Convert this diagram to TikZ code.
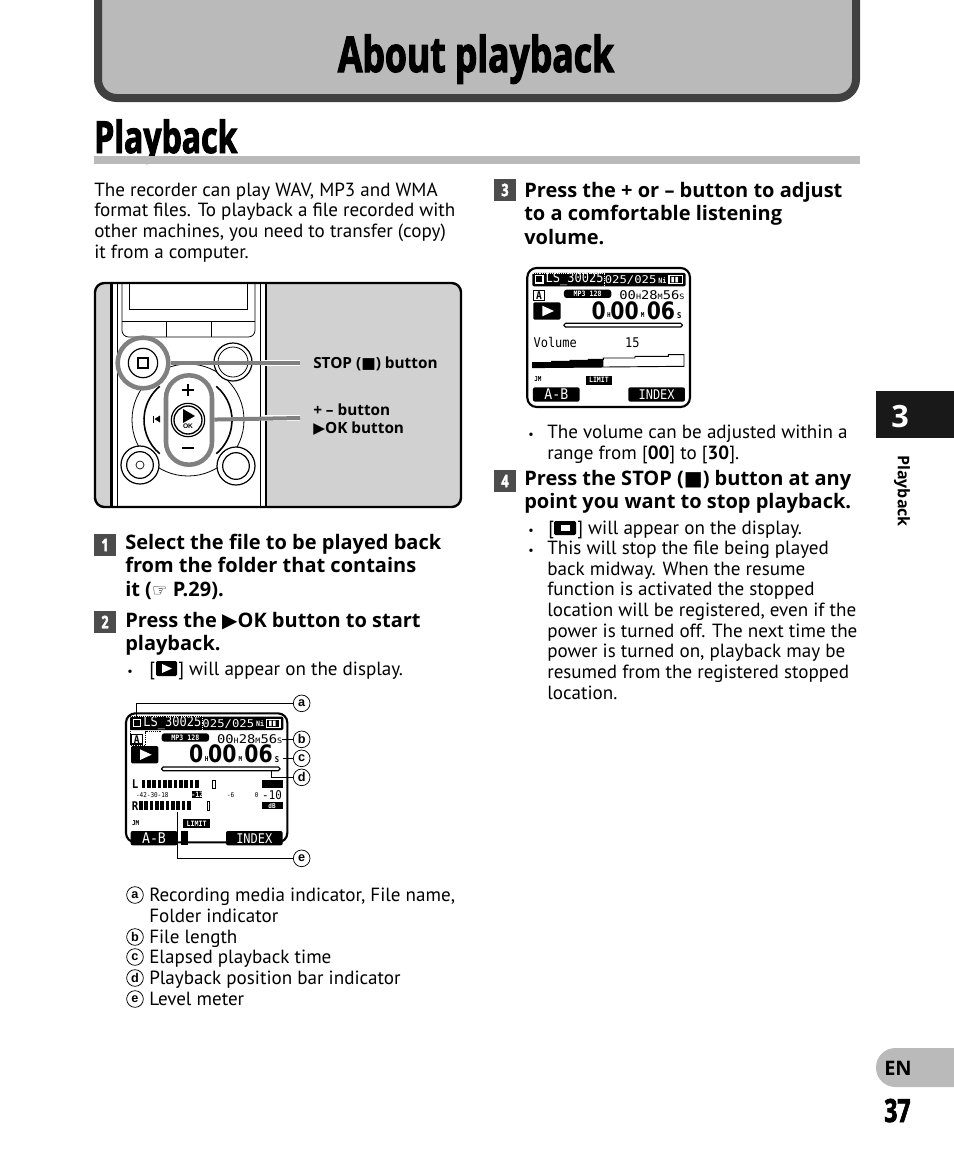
\documentclass[tikz,border=0pt]{standalone}
\usepackage{fontspec}
\setmainfont{PT Sans}
\newfontfamily\headfont[FakeStretch=.72,BoldFeatures={FakeBold=2.2}]{Open Sans}
\newfontfamily\stepfont{Open Sans}
\newfontfamily\glyphfont{DejaVu Sans}
\newfontfamily\keyfont{Liberation Sans}
\newfontfamily\lcdfont[FakeStretch=.9]{DejaVu Sans Mono}
\newfontfamily\lcdwide[FakeStretch=1.15]{DejaVu Sans Mono}
\newfontfamily\lcdbig[FakeStretch=.85]{DejaVu Sans}
\newcommand{\glyph}[1]{{\glyphfont #1}}
\newcommand{\lcdsize}[1]{\lcdfont\fontsize{#1}{#1}\selectfont}
\newcommand{\widesize}[1]{\lcdwide\fontsize{#1}{#1}\selectfont}
\newcommand{\bigsize}[1]{\lcdbig\fontsize{#1}{#1}\selectfont\bfseries}
% the face of the display, in thirds of a pixel
\newcommand{\lcdface}[1]{
	\fill[black,rounded corners=1pt] (45,80) rectangle (505,120);
	\draw[white,densely dotted] (47,80) -- (262,80) -- (262,120);
	\draw[white,line width=.8pt] (55,88) rectangle (77,110);
	\node[lcdtxt,white] (#1name) at (172,98) {\lcdsize{10}LS\char"5F 30025};
	\node[lcdtxt,white] (#1folder) at (340,102) {\widesize{8}025/025};
	\node[lcdtxt,white] (#1ni) at (435,102) {\lcdsize{5.5}\bfseries Ni};
	\draw[white,line width=.8pt] (455,88) rectangle (495,112);
	\fill[white] (462,92) rectangle (470,108) (474,92) rectangle (482,108);
	\draw[line width=.9pt] (48,133) rectangle (82,162);
	\node[lcdtxt] (#1media) at (65,148) {\lcdsize{8}\bfseries A};
	\fill[rounded corners=2pt] (140,130) rectangle (282,155);
	\node[lcdtxt,white] (#1rate) at (211,143) {\lcdsize{5.5}\bfseries MP3 128};
	\node[lcdtxt] (#1total) at (404,146) {\widesize{9}00{\widesize{5.5}H}28{\widesize{5.5}M}56{\widesize{5.5}S}};
	\fill[rounded corners=1pt] (48,168) rectangle (130,220);
	\fill[white] (75,178) -- (110,194) -- (75,210) -- cycle;
	\node[lcdtxt] (#1h) at (244,192) {\bigsize{18}0};
	\node[lcdtxt] (#1hu) at (275,207) {\lcdsize{5}\bfseries H};
	\node[lcdtxt] (#1m) at (322,192) {\bigsize{18}00};
	\node[lcdtxt] (#1mu) at (376,207) {\lcdsize{5}\bfseries M};
	\node[lcdtxt] (#1s) at (431,192) {\bigsize{18}06};
	\node[lcdtxt] (#1su) at (486,208) {\lcdsize{6}\bfseries S};
	\draw[rounded corners=1.2pt,line width=.9pt] (140,231) rectangle (495,242);
	\node[lcdtxt] (#1mic) at (62,398) {\lcdsize{5}\bfseries JM};
	\fill (205,388) rectangle (285,415);
	\node[lcdtxt,white] (#1limit) at (245,402) {\lcdsize{5.5}\bfseries LIMIT};
	\fill[rounded corners=1.5pt] (47,423) rectangle (187,466);
	\node[lcdtxt,white] (#1ab) at (117,445) {\lcdsize{11}A-B};
	\fill[rounded corners=1.5pt] (333,423) rectangle (503,466);
	\node[lcdtxt,white] (#1index) at (418,445) {\lcdsize{10}INDEX};
}

\begin{document}
\begin{tikzpicture}[x=.75pt,y=-.75pt,line cap=butt]
	\tikzstyle{txt}=[anchor=base west,inner sep=0pt,font=\fontsize{14.3}{16}\selectfont];
	\tikzstyle{bul}=[anchor=base west,inner sep=0pt,font=\fontsize{9}{10}\selectfont];
	\tikzstyle{hd}=[anchor=base west,inner sep=0pt,font=\stepfont\fontsize{15}{17}\selectfont\bfseries];
	\tikzstyle{stepnum}=[fill=black!70,text=white,minimum size=16.5pt,inner sep=0pt,font=\headfont\fontsize{13}{14}\selectfont\bfseries];
	\tikzstyle{keyc}=[circle,draw,line width=.55pt,fill=white,inner sep=0pt,minimum size=12.5pt,font=\keyfont\fontsize{9.5}{10}\selectfont\bfseries];
	\tikzstyle{lcdtxt}=[inner sep=0pt];
	\tikzstyle{callout}=[line width=3pt,draw=black!50];
	\tikzstyle{halo}=[line width=5pt,draw=white];
	\tikzstyle{tag}=[anchor=base west,inner sep=0pt,font=\stepfont\fontsize{11.5}{13}\selectfont\bfseries];
	\tikzstyle{btn}=[draw=black,fill=white,line width=.9pt];

	\useasboundingbox (0,0) rectangle (954,1158);

	% title block
	\draw[line width=6pt,draw=black!75,fill=black!27,rounded corners=14pt] (98,-30) rectangle (856,98);
	\node[anchor=base,inner sep=0pt,font=\headfont\fontsize{37}{40}\selectfont\bfseries] (title) at (476,72) {About playback};
	\node[anchor=base west,inner sep=0pt,font=\headfont\fontsize{33.3}{36}\selectfont\bfseries] (heading) at (94,153) {Playback};
	\fill[black!27] (94,156) rectangle (860,164);

	% intro
	\node[txt] (intro1) at (94,196) {The recorder can play WAV, MP3 and WMA};
	\node[txt] (intro2) at (94,216) {format files. To playback a file recorded with};
	\node[txt] (intro3) at (94,237) {other machines, you need to transfer (copy)};
	\node[txt] (intro4) at (94,258) {it from a computer.};

	% recorder
	\fill[white,rounded corners=7pt] (95,283) rectangle (461,507);
	\begin{scope}
		\clip[rounded corners=7pt] (95,283) rectangle (461,507);
		\fill[black!18] (95,283) rectangle (110,507);
		\fill[black!18] (266,283) rectangle (461,507);
	\end{scope}
	\draw[line width=2.2pt] (111.5,283) -- (111.5,507);
	\draw[line width=.6pt] (117,283) -- (117,507);
	\draw[line width=.6pt] (260,283) -- (260,507);
	\draw[line width=1.8pt] (266,283) -- (266,507);
	\draw[line width=.6pt,rounded corners=5pt] (122,283) -- (122,337) -- (255,337) -- (255,283);
	\draw[line width=.6pt] (129,283) rectangle (247,309);
	\draw[line width=.6pt] (122,321) -- (255,321);
	\draw[line width=.6pt] (166,321) -- (166,337);
	\draw[line width=.6pt] (211,321) -- (211,337);
	\draw[line width=.6pt] (188,420) circle (56);
	\draw[line width=1.2pt] (188,420) ++(130:44) arc (130:230:44);
	\draw[line width=1.2pt] (188,420) ++(-50:44) arc (-50:50:44);
	\node[circle,btn,minimum size=28.5pt,inner sep=0pt] (recordbtn) at (233,362) {};
	\node[circle,draw,line width=.6pt,minimum size=22.5pt,inner sep=0pt] (recordin) at (233,362) {};
	\node[circle,btn,minimum size=28.5pt,inner sep=0pt] (recbtn) at (140,465) {};
	\node[circle,draw,line width=.9pt,minimum size=20pt,inner sep=0pt] (recin) at (140,465) {};
	\node[circle,draw,line width=.5pt,minimum size=6pt,inner sep=0pt] (recdot) at (140,465) {};
	\node[circle,btn,minimum size=28.5pt,inner sep=0pt] (erasebtn) at (236,466) {};
	\node[circle,draw,line width=.9pt,minimum size=20pt,inner sep=0pt] (erasein) at (236,466) {};
	\fill (160,415.5) -- (160,422.5) -- (154.5,419) -- cycle;
	\fill (152.5,415.5) rectangle (154,422.5);
	% gray markers
	\coordinate (stopend) at (300,363);
	\coordinate (okend) at (300,418);
	\draw[halo] (262,363) -- (stopend);
	\draw[halo] (262,418) -- (okend);
	\node[circle,draw=black!50,line width=3.4pt,fill=white,minimum size=38pt,inner sep=0pt] (stopring) at (143,363) {};
	\draw[callout] (stopring) -- (stopend);
	\node[circle,draw,line width=.9pt,minimum size=22pt,inner sep=0pt] (stopbtn) at (143,363) {};
	\draw[line width=1pt] (138,358) rectangle (148,368);
	\node[draw=black!50,line width=3.4pt,fill=white,rounded corners=17pt,minimum width=34.5pt,minimum height=67pt,inner sep=0pt] (okpill) at (189,420) {};
	\draw[callout] (okpill) -- (okend);
	\draw[line width=1.3pt] (182,390) -- (194,390) (188,384) -- (188,396);
	\draw[line width=1.3pt] (182,448) -- (194,448);
	\node[circle,btn,minimum size=25pt,inner sep=0pt] (okbtn) at (188,420) {};
	\node[circle,draw,line width=1pt,minimum size=21pt,inner sep=0pt] (okin) at (188,420) {};
	\fill (183,409) -- (195,416) -- (183,423) -- cycle;
	\node[inner sep=0pt,font=\keyfont\fontsize{5}{5}\selectfont\bfseries] (oklabel) at (188,426) {OK};
	\draw[line width=1.8pt,rounded corners=7pt] (95,283) rectangle (461,507);
	\node[tag] (stoptag) at (313,368) {STOP (\glyph{■}) button};
	\node[tag] (plustag) at (313,415) {+ – button};
	\node[tag] (oktag) at (313,433) {\glyph{▶}OK button};

	% left column
	\node[stepnum] (step1) at (105,545) {1};
	\node[hd] (s1a) at (125,549) {Select the file to be played back};
	\node[hd] (s1b) at (125,572) {from the folder that contains};
	\node[hd] (s1c) at (125,596) {it (\glyph{\fontsize{13}{15}\selectfont ☞} P.29).};
	\node[stepnum] (step2) at (105,622) {2};
	\node[hd] (s2a) at (125,627) {Press the \glyph{▶}OK button to start};
	\node[hd] (s2b) at (125,650) {playback.};
	\node[bul] (b1) at (127,675) {•};
	\node[txt] (b1l) at (149,675) {[};
	\fill[rounded corners=1pt] (156,661) rectangle (177,676);
	\fill[white] (162,664) -- (172,668.5) -- (162,673) -- cycle;
	\node[txt] (b1r) at (178,675) {] will appear on the display.};

	% display with callouts
	\begin{scope}[shift={(115,690)},x=.25pt,y=-.25pt]
		\draw[line width=1.6pt,rounded corners=7pt] (33,70) rectangle (517,457);
		\lcdface{one}
		\draw[densely dotted] (45,78) -- (262,78) (45,78) -- (45,165) -- (92,165) -- (92,125) -- (140,125);
		\fill (197,423) rectangle (218,466);
		\node[lcdtxt] (lmark) at (60,283) {\lcdsize{9}\bfseries L};
		\node[lcdtxt] (rmark) at (60,347) {\lcdsize{9}\bfseries R};
		\foreach \i in {0,...,10} {\fill (80+16*\i,270) rectangle ++(11,25);}
		\foreach \i in {0,...,9} {\fill (72+16*\i,334) rectangle ++(11,26);}
		\draw[line width=.7pt] (291,270) rectangle (301,295);
		\draw[line width=.7pt] (276,334) rectangle (284,360);
		\fill (440,270) rectangle (503,295);
		\fill (440,336) rectangle (503,358);
		\fill (232,303) rectangle (262,324);
		\node[lcdtxt] (scale1) at (112,314) {\lcdsize{5}-42-30-18};
		\node[lcdtxt,white] (scale2) at (247,314) {\lcdsize{5.5}\bfseries -12};
		\node[lcdtxt] (scale3) at (347,314) {\lcdsize{5}-6};
		\node[lcdtxt] (scale4) at (425,314) {\lcdsize{5}0};
		\node[lcdtxt] (scale5) at (471,314) {\lcdsize{9}-10};
		\node[lcdtxt,white] (dbmark) at (471,348) {\lcdsize{5}\bfseries dB};
		% keys round the display
		\node[keyc] (ka) at (560,40) {a};
		\node[keyc] (kb) at (560,148) {b};
		\node[keyc] (kc) at (560,205) {c};
		\node[keyc] (kd) at (560,262) {d};
		\node[keyc] (ke) at (560,505) {e};
		\coordinate (ta) at (65,85);
		\coordinate (tb) at (500,148);
		\coordinate (tc) at (505,205);
		\coordinate (td) at (470,242);
		\coordinate (te) at (188,365);
		\draw[line width=.7pt] (ka) -| (ta);
		\draw[line width=.7pt] (kb) -- (tb);
		\draw[line width=.7pt] (kc) -- (tc);
		\draw[line width=.7pt] (kd) -| (td);
		\draw[line width=.7pt] (ke) -| (te);
	\end{scope}

	% legend
	\node[keyc] (la) at (135,895) {a};
	\node[keyc] (lb) at (135,937) {b};
	\node[keyc] (lc) at (135,957) {c};
	\node[keyc] (ld) at (135,978) {d};
	\node[keyc] (le) at (135,999) {e};
	\node[txt] (la1) at (149,901) {Recording media indicator, File name,};
	\node[txt] (la2) at (149,922) {Folder indicator};
	\node[txt] (lb1) at (149,943) {File length};
	\node[txt] (lc1) at (149,963) {Elapsed playback time};
	\node[txt] (ld1) at (149,984) {Playback position bar indicator};
	\node[txt] (le1) at (149,1005) {Level meter};

	% right column
	\node[stepnum] (step3) at (505,190) {3};
	\node[hd] (s3a) at (524,197) {Press the + or – button to adjust};
	\node[hd] (s3b) at (524,220) {to a comfortable listening};
	\node[hd] (s3c) at (524,244) {volume.};
	\begin{scope}[shift={(517.3,246.3)},x=.25pt,y=-.25pt]
		\draw[line width=1.6pt,rounded corners=7pt] (30,65) rectangle (518,482);
		\lcdface{two}
		\node[lcdtxt,anchor=base west] (volname) at (48,303) {\lcdsize{10}Volume};
		\node[lcdtxt] (volnum) at (345,290) {\lcdsize{10}15};
		\draw[line width=.7pt] (46,364) -- (46,349) -- (103,349) -- (103,345) -- (158,345) -- (158,342) -- (213,342) -- (213,339) -- (258,339) -- (258,335) -- (353,335) -- (353,330) -- (453,330) -- (453,325) -- (500,325) -- (500,360) -- cycle;
		\fill (46,364) -- (46,349) -- (103,349) -- (103,345) -- (158,345) -- (158,342) -- (213,342) -- (213,339) -- (258,339) -- (258,362) -- cycle;
	\end{scope}
	\node[bul] (b2) at (528,438) {•};
	\node[txt] (b2a) at (547,438) {The volume can be adjusted within a};
	\node[txt] (b2b) at (547,459) {range from [\textbf{00}] to [\textbf{30}].};
	\node[stepnum] (step4) at (505,481) {4};
	\node[hd] (s4a) at (524,485) {Press the STOP (\glyph{■}) button at any};
	\node[hd] (s4b) at (524,508) {point you want to stop playback.};
	\node[bul] (b3) at (528,534) {•};
	\node[txt] (b3l) at (548,534) {[};
	\fill[rounded corners=1pt] (554,521) rectangle (576,535);
	\fill[white] (561,525) rectangle (570,531);
	\node[txt] (b3r) at (577,534) {] will appear on the display.};
	\node[bul] (b4) at (528,554) {•};
	\node[txt] (b4a) at (547,554) {This will stop the file being played};
	\node[txt] (b4b) at (547,575) {back midway. When the resume};
	\node[txt] (b4c) at (547,595) {function is activated the stopped};
	\node[txt] (b4d) at (547,616) {location will be registered, even if the};
	\node[txt] (b4e) at (547,637) {power is turned off. The next time the};
	\node[txt] (b4f) at (547,657) {power is turned on, playback may be};
	\node[txt] (b4g) at (547,678) {resumed from the registered stopped};
	\node[txt] (b4h) at (547,699) {location.};

	% side tabs
	\fill[black!90] (876,391) rectangle (954,438);
	\node[inner sep=0pt,text=white,font=\stepfont\fontsize{23}{24}\selectfont\bfseries] (chapter) at (900,417) {3};
	\node[rotate=-90,inner sep=0pt,font=\stepfont\fontsize{12}{15}\selectfont\bfseries] (sidelabel) at (902,491) {Playback};
	\fill[black!27,rounded corners=14.5pt] (876,1048) rectangle (990,1087);
	\node[anchor=base west,inner sep=0pt,font=\stepfont\fontsize{15}{16}\selectfont\bfseries] (lang) at (884,1075) {EN};
	\node[anchor=base west,inner sep=0pt,font=\headfont\fontsize{24}{26}\selectfont\bfseries] (page) at (884,1122) {37};
\end{tikzpicture}
\end{document}
